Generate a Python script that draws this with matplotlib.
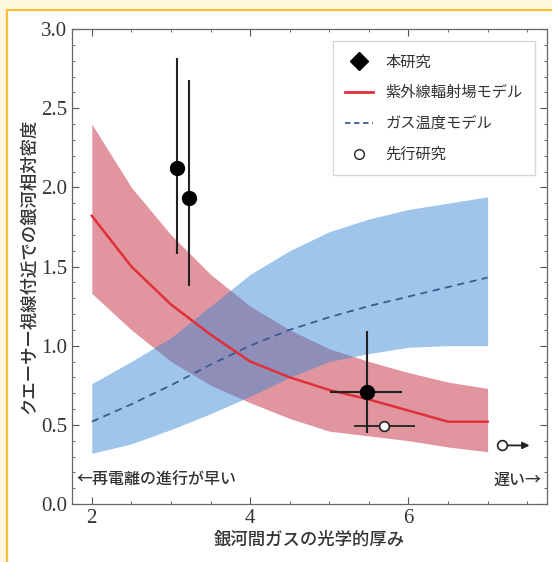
import matplotlib
matplotlib.use('Agg')
import matplotlib.pyplot as plt
from matplotlib.patches import Rectangle
from matplotlib.lines import Line2D
from matplotlib.ticker import MultipleLocator, FormatStrFormatter
import numpy as np

plt.rcParams['font.family'] = ['Noto Sans CJK JP', 'DejaVu Sans']

# model grid (optical depth)
tau = [2.0, 2.5, 3.0, 3.5, 4.0, 4.5, 5.0, 5.5, 6.0, 6.5, 7.0]

# UV radiation field model
uv_mid = [1.82, 1.50, 1.26, 1.07, 0.90, 0.80, 0.72, 0.66, 0.59, 0.52, 0.52]
uv_hi = [2.40, 2.00, 1.70, 1.45, 1.25, 1.10, 0.98, 0.90, 0.83, 0.77, 0.73]
uv_lo = [1.33, 1.10, 0.90, 0.75, 0.64, 0.54, 0.46, 0.43, 0.40, 0.36, 0.33]

# gas temperature model
gas_mid = [0.52, 0.63, 0.75, 0.88, 1.00, 1.10, 1.18, 1.25, 1.31, 1.37, 1.43]
gas_hi = [0.76, 0.90, 1.05, 1.25, 1.45, 1.60, 1.72, 1.80, 1.86, 1.90, 1.94]
gas_lo = [0.32, 0.38, 0.47, 0.57, 0.68, 0.80, 0.90, 0.95, 0.99, 1.00, 1.00]

# this study
this_x = [3.08, 3.23, 5.48]
this_y = [2.12, 1.93, 0.71]
this_ylo = [1.58, 1.38, 0.45]
this_yhi = [2.82, 2.68, 1.09]
this_xlo = [3.08, 3.23, 5.01]
this_xhi = [3.08, 3.23, 5.92]

# previous studies
prev_x = [5.69]
prev_y = [0.49]
prev_xlo = [5.31]
prev_xhi = [6.08]
lim_x = 7.18
lim_y = 0.37
lim_end = 7.53

x_ticks = [2, 4, 6]
y_ticks = [0.0, 0.5, 1.0, 1.5, 2.0, 2.5, 3.0]

red = '#C32D41'
blue = '#3787D7'
txt = '#333333'

fig = plt.figure(figsize=(5.52, 5.62), dpi=100)
fig.patch.set_facecolor('white')
fig.patches.append(Rectangle((0, 0), 1, 1, transform=fig.transFigure,
                             facecolor='#FFF8DF', edgecolor='none', zorder=-10))
fig.patches.append(Rectangle((7 / 552, -0.2), 1.2, 1.2 - 10 / 562,
                             transform=fig.transFigure, facecolor='white',
                             edgecolor='#F6BE3A', linewidth=1.6, zorder=-9))

ax = fig.add_axes([72 / 552, 1 - 504 / 562, (547 - 72) / 552, (504 - 29) / 562])
ax.set_facecolor('white')

ax.fill_between(tau, uv_lo, uv_hi, color=red, alpha=0.5, linewidth=0, zorder=1)
ax.fill_between(tau, gas_lo, gas_hi, color=blue, alpha=0.48, linewidth=0, zorder=2)
ax.plot(tau, uv_mid, color='#E0303A', linewidth=1.8, zorder=3)
ax.plot(tau, gas_mid, color='#3E5A8E', linewidth=1.3, linestyle=(0, (4, 3)), zorder=3)

xerr = [np.array(this_x) - np.array(this_xlo), np.array(this_xhi) - np.array(this_x)]
yerr = [np.array(this_y) - np.array(this_ylo), np.array(this_yhi) - np.array(this_y)]
ax.errorbar(this_x, this_y, xerr=xerr, yerr=yerr, fmt='o', color='black',
            ecolor='#222222', elinewidth=1.5, markersize=10, capsize=0, zorder=5)

pxerr = [np.array(prev_x) - np.array(prev_xlo), np.array(prev_xhi) - np.array(prev_x)]
ax.errorbar(prev_x, prev_y, xerr=pxerr, fmt='none', ecolor='#222222',
            elinewidth=1.3, capsize=0, zorder=5)
ax.plot(prev_x, prev_y, 'o', markerfacecolor='white', markeredgecolor='#222222',
        markersize=7, markeredgewidth=1.2, zorder=6)

ax.annotate('', xy=(lim_end, lim_y), xytext=(lim_x, lim_y),
            arrowprops=dict(arrowstyle='-|>', color='#222222', lw=1.3,
                            mutation_scale=10, shrinkA=0, shrinkB=0), zorder=5)
ax.plot([lim_x], [lim_y], 'o', markerfacecolor='white', markeredgecolor='#222222',
        markersize=7, markeredgewidth=1.2, zorder=6)

ax.text(1.80, 0.15, '←再電離の進行が早い', fontsize=11.5, color=txt,
        fontweight='medium', ha='left', va='center')
ax.text(7.68, 0.15, '遅い→', fontsize=11.5, color=txt,
        fontweight='medium', ha='right', va='center')

ax.set_xlim(1.75, 7.75)
ax.set_ylim(0, 3.0)
ax.set_xticks(x_ticks)
ax.set_yticks(y_ticks)
ax.xaxis.set_minor_locator(MultipleLocator(0.5))
ax.yaxis.set_minor_locator(MultipleLocator(0.1))
ax.yaxis.set_major_formatter(FormatStrFormatter('%.1f'))
ax.tick_params(which='both', direction='in', top=True, right=True, colors='#555555',
               labelcolor=txt, labelsize=15)
ax.tick_params(which='major', length=5, width=0.8)
ax.tick_params(which='minor', length=2.5, width=0.6)
for lab in ax.get_xticklabels() + ax.get_yticklabels():
    lab.set_family('Liberation Serif')
for s in ax.spines.values():
    s.set_color('#666666')
    s.set_linewidth(0.9)

ax.set_xlabel('銀河間ガスの光学的厚み', fontsize=12.5, color=txt, labelpad=2,
              fontweight='medium')
ax.set_ylabel('クエーサー視線付近での銀河相対密度', fontsize=12.5, color=txt, labelpad=2,
              fontweight='medium')

handles = [
    Line2D([], [], color='black', marker='D', markersize=9, linestyle='none'),
    Line2D([], [], color='#E0303A', linewidth=2),
    Line2D([], [], color='#3E5A8E', linewidth=1.3, linestyle=(0, (3, 2))),
    Line2D([], [], marker='o', markerfacecolor='white', markeredgecolor='#222222',
           markersize=7, linestyle='none'),
]
labels = ['本研究', '紫外線輻射場モデル', 'ガス温度モデル', '先行研究']
leg = ax.legend(handles, labels, loc='upper right', bbox_to_anchor=(0.99, 0.99),
                fontsize=11, frameon=True, fancybox=False, edgecolor='#CCCCCC',
                handlelength=1.8, labelspacing=0.9, borderpad=0.8)
for t in leg.get_texts():
    t.set_color(txt)

fig.savefig('out.png', dpi=100, facecolor=fig.get_facecolor())
